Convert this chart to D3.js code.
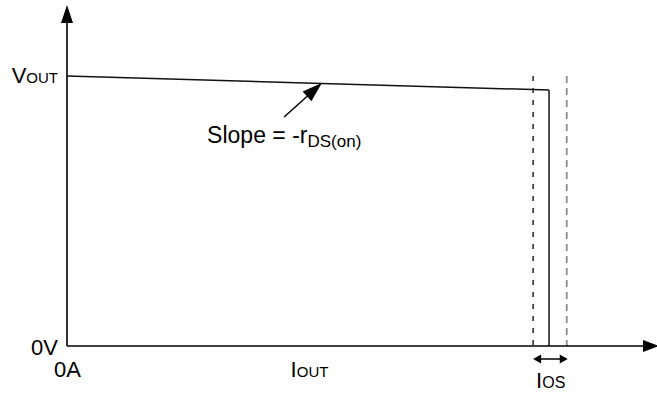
<!DOCTYPE html>
<html>
<head>
<meta charset="utf-8">
<script src="https://cdn.jsdelivr.net/npm/d3@7"></script>
<style>
  body { margin: 0; background: #fff; }
  text { font-family: Arial, "Liberation Sans", sans-serif; fill: #000; }
</style>
</head>
<body>
<div id="chart"></div>
<script>
// output curve: I_OUT (relative) vs V_OUT (relative)
const iOut = [0, 0.817, 0.817];
const vOut = [1, 0.948, 0];

// current limit markers (dashed), relative current
const limitI = [0.79, 0.847];
const limitColors = ["#000", "#8c8c8c"];

// axis ends (arrow tips)
const axisEnd = [1, 1.263];

// tick labels
const xTickValues = [0];
const xTickLabels = [["0A", ""]];
const yTickValues = [0, 1];
const yTickLabels = [["0V", ""], ["V", "OUT"]];

// slope arrow: tail and tip on the curve [I, V]
const slopeTail = [0.368, 0.848];
const slopeTip = [0.432, 0.974];

let width = 657,
  height = 395;

let x = d3.scaleLinear().domain([0, 1]).range([67, 657]);
let y = d3.scaleLinear().domain([0, 1]).range([346, 76]);

let svg = d3
  .select("#chart")
  .append("svg")
  .attr("width", width)
  .attr("height", height);

function arrowHead(tip, from, len, w) {
  //triangle pointing at tip, coming from "from"
  let dx = tip[0] - from[0],
    dy = tip[1] - from[1];
  let d = Math.sqrt(dx * dx + dy * dy);
  let ux = dx / d,
    uy = dy / d;
  let bx = tip[0] - ux * len,
    by = tip[1] - uy * len;
  return [
    tip,
    [bx - uy * w / 2, by + ux * w / 2],
    [bx + uy * w / 2, by - ux * w / 2],
  ];
}

// dashed limit lines
svg
  .selectAll(".limit")
  .data(limitI)
  .join("line")
  .attr("x1", (d) => x(d))
  .attr("x2", (d) => x(d))
  .attr("y1", y(1))
  .attr("y2", y(0))
  .attr("stroke", (d, i) => limitColors[i])
  .attr("stroke-width", (d, i) => (i == 0 ? 1.3 : 1.8))
  .attr("stroke-dasharray", (d, i) => (i == 0 ? "5,7" : "7,5"));

// output curve
let pts = iOut.map((d, i) => [x(d), y(vOut[i])]);
svg
  .append("path")
  .attr("d", d3.line()(pts.slice(0, 2)))
  .attr("fill", "none")
  .attr("stroke", "#111")
  .attr("stroke-width", 1.5);
svg
  .append("path")
  .attr("d", d3.line()(pts.slice(1)))
  .attr("fill", "none")
  .attr("stroke", "#3a3a3a")
  .attr("stroke-width", 1.8);

// axes
let origin = [x(0), y(0)];
let xTip = [x(axisEnd[0]) + 2, y(0)];
let yTip = [x(0), y(axisEnd[1])];
svg
  .append("line")
  .attr("x1", origin[0])
  .attr("y1", origin[1])
  .attr("x2", xTip[0] - 10)
  .attr("y2", xTip[1])
  .attr("stroke", "#000")
  .attr("stroke-width", 1.6);
svg
  .append("line")
  .attr("x1", origin[0])
  .attr("y1", origin[1])
  .attr("x2", yTip[0])
  .attr("y2", yTip[1] + 10)
  .attr("stroke", "#000")
  .attr("stroke-width", 1.6);
svg
  .append("polygon")
  .attr("points", arrowHead(xTip, origin, 16, 12).join(" "))
  .attr("fill", "#000");
svg
  .append("polygon")
  .attr("points", arrowHead(yTip, origin, 18, 12).join(" "))
  .attr("fill", "#000");

// slope arrow
let sTail = [x(slopeTail[0]), y(slopeTail[1])];
let sTip = [x(slopeTip[0]), y(slopeTip[1])];
svg
  .append("line")
  .attr("x1", sTail[0])
  .attr("y1", sTail[1])
  .attr("x2", sTail[0] + (sTip[0] - sTail[0]) * 0.7)
  .attr("y2", sTail[1] + (sTip[1] - sTail[1]) * 0.7)
  .attr("stroke", "#000")
  .attr("stroke-width", 1.5);
svg
  .append("polygon")
  .attr("points", arrowHead(sTip, sTail, 20, 13).join(" "))
  .attr("fill", "#000");

// I_OS double arrow
let dy = y(0) + 13;
let dL = [x(limitI[0]), dy],
  dR = [x(limitI[1]) + 1, dy];
svg
  .append("line")
  .attr("x1", dL[0] + 5)
  .attr("y1", dy)
  .attr("x2", dR[0] - 5)
  .attr("y2", dy)
  .attr("stroke", "#000")
  .attr("stroke-width", 1.5);
svg
  .append("polygon")
  .attr("points", arrowHead(dL, dR, 8, 9).join(" "))
  .attr("fill", "#000");
svg
  .append("polygon")
  .attr("points", arrowHead(dR, dL, 8, 9).join(" "))
  .attr("fill", "#000");

// label helper: main text + subscript
function label(px, py, parts, anchor, size, subSize, subShift) {
  let t = svg
    .append("text")
    .attr("x", px)
    .attr("y", py)
    .attr("text-anchor", anchor)
    .style("font-size", (size || 22) + "px");
  t.append("tspan").text(parts[0]);
  if (parts[1])
    t.append("tspan")
      .attr("dy", subShift || 0)
      .style("font-size", (subSize || 15) + "px")
      .text(parts[1]);
  return t;
}

// y tick labels
yTickValues.forEach((d, i) => {
  label(x(0) - 9, y(d) + (d == 0 ? 9 : 7), yTickLabels[i], "end");
});
// x tick labels
xTickValues.forEach((d, i) => {
  label(x(d) - 13, y(0) + 31, xTickLabels[i], "start");
});

// axis title and annotations
label(x(0.379), y(0) + 31, ["I", "OUT"], "start");
label(x(limitI[0]) + 3, y(0) + 42, ["I", "OS"], "start", 22, 16);
label(sTail[0] - 77, sTail[1] + 26, ["Slope = -r", "DS(on)"], "start", 23, 17, 4);
</script>
</body>
</html>
